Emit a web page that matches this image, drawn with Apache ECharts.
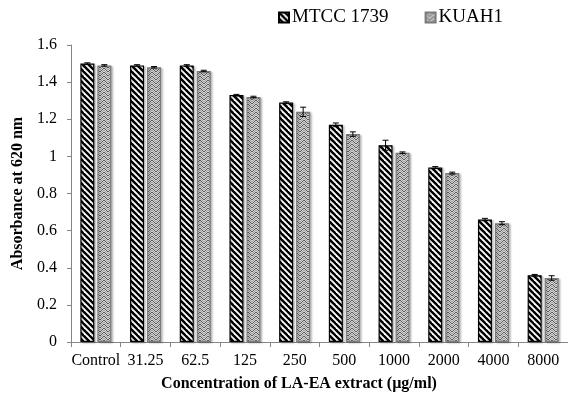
<!DOCTYPE html>
<html>
<head>
<meta charset="utf-8">
<script src="https://cdn.jsdelivr.net/npm/echarts@6/dist/echarts.min.js"></script>
<style>
  html, body { margin: 0; padding: 0; background: #fff; }
  #chart { width: 568px; height: 393px; }
</style>
</head>
<body>
<div id="chart"></div>
<script>
// Absorbance readings per extract concentration, two strains
const categories = ['Control', '31.25', '62.5', '125', '250', '500', '1000', '2000', '4000', '8000'];
const seriesNames = ['MTCC 1739', 'KUAH1'];
const mtccValues = [1.50, 1.49, 1.49, 1.33, 1.29, 1.17, 1.06, 0.94, 0.66, 0.36];
const kuahValues = [1.49, 1.48, 1.46, 1.32, 1.24, 1.12, 1.02, 0.91, 0.64, 0.345];
const mtccErrors = [0.004, 0.004, 0.004, 0.004, 0.004, 0.010, 0.027, 0.005, 0.006, 0.004];
const kuahErrors = [0.004, 0.004, 0.004, 0.004, 0.025, 0.012, 0.004, 0.005, 0.008, 0.012];
const yTicks = { min: 0, max: 1.6, interval: 0.2 };

const FONT = 'Liberation Serif';
const BAR_W = 14;
const BAR_GAP = 3;

// Back-slash diagonal stripes
function stripePattern() {
  const s = 6;
  const c = document.createElement('canvas');
  c.width = s; c.height = s;
  const g = c.getContext('2d');
  g.fillStyle = '#fff';
  g.fillRect(0, 0, s, s);
  g.strokeStyle = '#000';
  g.lineWidth = 2.4;
  for (let k = -1; k <= 1; k++) {
    g.beginPath();
    g.moveTo(k * s - 1, -1);
    g.lineTo(k * s + s + 1, s + 1);
    g.stroke();
  }
  return c;
}

// Grey zig-zag weave
function zigzagPattern() {
  const s = 8;
  const c = document.createElement('canvas');
  c.width = s; c.height = s;
  const g = c.getContext('2d');
  g.fillStyle = '#d4d4d4';
  g.fillRect(0, 0, s, s);
  const prof = [0, 1, 2, 3, 3, 2, 1, 0];
  g.fillStyle = '#5a5a5a';
  for (let x = 0; x < s; x++) {
    const y = prof[x];
    g.fillRect(x, y, 1, 1);
    g.fillRect(x, (y + 4) % s, 1, 1);
  }
  g.fillStyle = '#a0a0a0';
  for (let x = 0; x < s; x++) {
    const y = prof[x];
    g.fillRect(x, (y + 2) % s, 1, 1);
    g.fillRect(x, (y + 6) % s, 1, 1);
  }
  return c;
}

const stripeFill = { image: stripePattern(), repeat: 'repeat' };
const zigzagFill = { image: zigzagPattern(), repeat: 'repeat' };

function errorData(values, errs) {
  return values.map((v, i) => [i, v - errs[i], v + errs[i]]);
}

function errorSeries(values, errs, side) {
  const offset = side * (BAR_W / 2 + BAR_GAP / 2);
  return {
    type: 'custom',
    silent: true,
    z: 5,
    data: errorData(values, errs),
    encode: { x: 0, y: [1, 2] },
    renderItem: function (params, api) {
      const lo = api.coord([api.value(0), api.value(1)]);
      const hi = api.coord([api.value(0), api.value(2)]);
      const x = lo[0] + offset;
      const cap = 3;
      const st = { stroke: '#000', lineWidth: 1 };
      return {
        type: 'group',
        children: [
          { type: 'line', shape: { x1: x, y1: lo[1], x2: x, y2: hi[1] }, style: st },
          { type: 'line', shape: { x1: x - cap, y1: hi[1], x2: x + cap, y2: hi[1] }, style: st },
          { type: 'line', shape: { x1: x - cap, y1: lo[1], x2: x + cap, y2: lo[1] }, style: st }
        ]
      };
    }
  };
}

const chart = echarts.init(document.getElementById('chart'), null, { renderer: 'canvas' });

chart.setOption({
  animation: false,
  backgroundColor: '#fff',
  textStyle: { fontFamily: FONT },
  title: {
    text: 'Concentration of LA-EA extract (\u00b5g/ml)',
    left: 299,
    top: 376,
    textAlign: 'center',
    padding: 0,
    textStyle: { fontFamily: FONT, fontWeight: 'bold', fontSize: 16, color: '#000' }
  },
  legend: {
    left: 278,
    top: 8,
    padding: 0,
    itemWidth: 10,
    itemHeight: 10,
    itemGap: 36,
    icon: 'rect',
    textStyle: { fontFamily: FONT, fontSize: 19, color: '#000', padding: [0, 0, 0, -2] },
    data: seriesNames
  },
  grid: { left: 71, right: -8, top: 45, bottom: 51, containLabel: false },
  xAxis: {
    type: 'category',
    data: categories,
    boundaryGap: true,
    axisLine: { lineStyle: { color: '#868686', width: 1 } },
    axisTick: { show: true, length: 5, lineStyle: { color: '#868686' } },
    axisLabel: { color: '#000', fontFamily: FONT, fontSize: 16, margin: 11, interval: 0 }
  },
  yAxis: {
    type: 'value',
    min: yTicks.min,
    max: yTicks.max,
    interval: yTicks.interval,
    name: 'Absorbance at 620 nm',
    nameLocation: 'middle',
    nameGap: 40,
    nameTextStyle: { fontFamily: FONT, fontWeight: 'bold', fontSize: 16, color: '#000' },
    splitLine: { show: false },
    axisLine: { show: true, lineStyle: { color: '#868686', width: 1 } },
    axisTick: { show: true, length: 4, lineStyle: { color: '#868686' } },
    axisLabel: { color: '#000', fontFamily: FONT, fontSize: 16, margin: 14 }
  },
  series: [
    {
      name: seriesNames[0],
      type: 'bar',
      data: mtccValues,
      barWidth: BAR_W,
      barGap: (BAR_GAP / BAR_W * 100) + '%',
      itemStyle: {
        color: stripeFill,
        borderColor: '#000',
        borderWidth: 1.2,
        shadowColor: 'rgba(0,0,0,0.25)',
        shadowBlur: 2,
        shadowOffsetX: 1.5,
        shadowOffsetY: 1
      }
    },
    {
      name: seriesNames[1],
      type: 'bar',
      data: kuahValues,
      barWidth: BAR_W,
      itemStyle: {
        color: zigzagFill,
        borderColor: '#7a7a7a',
        borderWidth: 1.2,
        shadowColor: 'rgba(0,0,0,0.25)',
        shadowBlur: 2,
        shadowOffsetX: 1.5,
        shadowOffsetY: 1
      }
    },
    errorSeries(mtccValues, mtccErrors, -1),
    errorSeries(kuahValues, kuahErrors, 1)
  ]
});
</script>
</body>
</html>
